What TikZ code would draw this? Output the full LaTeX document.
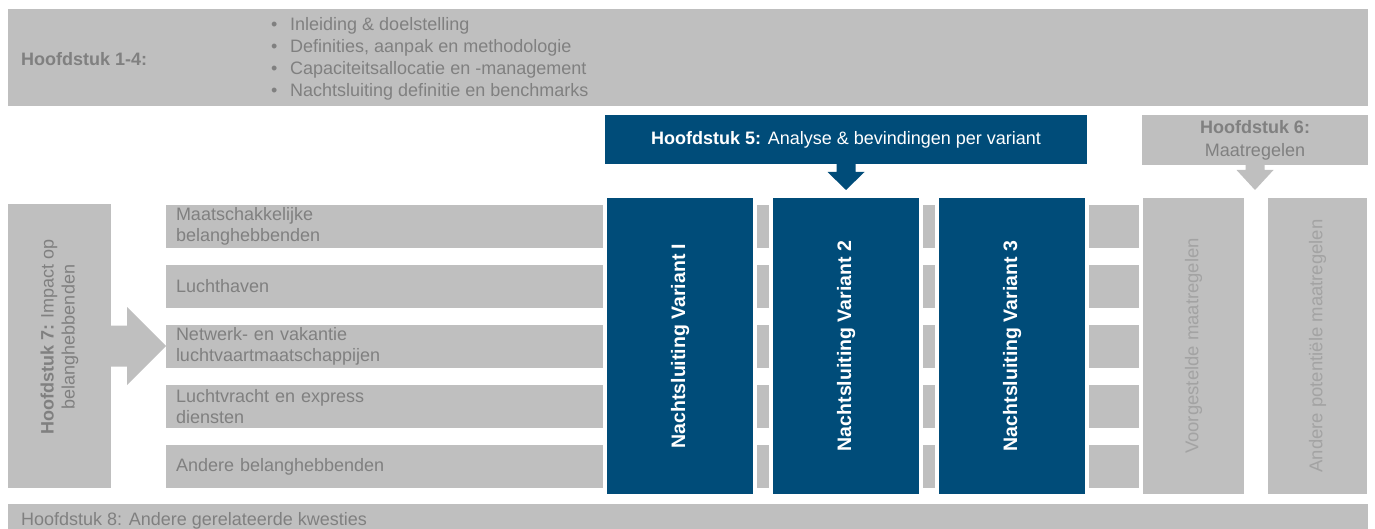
\documentclass[tikz,border=0pt]{standalone}
\usepackage{fontspec}
\setmainfont{Liberation Sans}
\usetikzlibrary{positioning,calc}
\definecolor{chapblue}{RGB}{0,76,121}
\definecolor{chapgray}{RGB}{191,191,191}
\definecolor{textgray}{RGB}{128,128,128}
\definecolor{palegray}{RGB}{163,163,163}
\newcommand{\bigfont}{\fontsize{18}{21}\selectfont}

\begin{document}
\begin{tikzpicture}[x=1pt, y=-1pt,
	graybox/.style={fill=chapgray, inner sep=0pt, outer sep=0pt, anchor=north west, text=textgray, font=\bigfont},
	bluebox/.style={fill=chapblue, inner sep=0pt, outer sep=0pt, anchor=north west, text=white, font=\bigfont},
	rowbox/.style={graybox, minimum height=43pt, text width=953pt, inner xsep=10pt, align=left},
	varbox/.style={bluebox, draw=white, line width=4pt, minimum width=150pt, minimum height=300pt},
	sidebox/.style={graybox, minimum width=#1, minimum height=296pt},
	uptext/.style={rotate=90, inner sep=0pt, font=\bigfont, align=center}]
	\useasboundingbox (0,0) rectangle (1375,529);

	% hoofdstuk 1-4
	\node [graybox, minimum width=1360pt, minimum height=97pt] (ch14) at (8,9) {};
	\node [anchor=west, inner sep=0pt, text=textgray, font=\bigfont\bfseries] (ch14t) at (21,59) {Hoofdstuk 1-4:};
	\node [anchor=west, inner sep=0pt, text=textgray, align=left, font=\fontsize{18}{22}\selectfont] (ch14l) at (271,59)
		{\makebox[19pt][l]{\textbullet}Inleiding \& doelstelling\\
		 \makebox[19pt][l]{\textbullet}Definities, aanpak en methodologie\\
		 \makebox[19pt][l]{\textbullet}Capaciteitsallocatie en -management\\
		 \makebox[19pt][l]{\textbullet}Nachtsluiting definitie en benchmarks};

	% hoofdstuk 5
	\node [bluebox, minimum width=482pt, minimum height=49pt] (ch5) at (605,115) {\textbf{Hoofdstuk 5:} Analyse \& bevindingen per variant};
	\fill [chapblue] ($(ch5.south)+(-9.5,0)$) -- ++(0,8) -- ++(-9,0) -- ($(ch5.south)+(0,26)$)
		-- ($(ch5.south)+(18.5,8)$) -- ++(-9,0) -- ++(0,-8) -- cycle;

	% hoofdstuk 6
	\node [graybox, minimum width=226pt, minimum height=50pt, align=center, font=\fontsize{18}{23}\selectfont] (ch6) at (1142,115) {\textbf{Hoofdstuk 6:}\\Maatregelen};
	\fill [chapgray] ($(ch6.south)+(-9.5,0)$) -- ++(0,5) -- ++(-9,0) -- ($(ch6.south)+(0,25)$)
		-- ($(ch6.south)+(18.5,5)$) -- ++(-9,0) -- ++(0,-5) -- cycle;

	% belanghebbenden
	\foreach \i/\txt in {1/{Maatschakkelijke\\belanghebbenden}, 2/Luchthaven, 3/{Netwerk- en vakantie\\luchtvaartmaatschappijen}, 4/{Luchtvracht en express\\diensten}, 5/Andere belanghebbenden}
		\node [rowbox] (row\i) at (166,{205+60*(\i-1)}) {\txt};

	% hoofdstuk 7
	\node [graybox, minimum width=103pt, minimum height=284pt] (ch7) at (8,204) {};
	\node [uptext, text=textgray] (ch7t) at ($(ch7.center)+(0,-9)$) {\textbf{Hoofdstuk 7:} Impact op\\belanghebbenden};
	\fill [chapgray] ($(ch7.east)+(0,-20.5)$) -- ++(16,0) -- ++(0,-18.5) -- ($(ch7.east)+(55,0)$)
		-- ($(ch7.east)+(16,39)$) -- ++(0,-18.5) -- ++(-16,0) -- cycle;

	% varianten
	\node [varbox] (var1) at (605,196) {};
	\node [varbox] (var2) at (771,196) {};
	\node [varbox] (var3) at (937,196) {};
	\node [uptext, text=white, font=\fontsize{19.5}{21}\selectfont\bfseries] (var1t) at (var1) {Nachtsluiting Variant I};
	\node [uptext, text=white, font=\fontsize{19.5}{21}\selectfont\bfseries] (var2t) at (var2) {Nachtsluiting Variant 2};
	\node [uptext, text=white, font=\fontsize{19.5}{21}\selectfont\bfseries] (var3t) at (var3) {Nachtsluiting Variant 3};

	% maatregelen
	\node [sidebox=101pt] (side1) at (1143,198) {};
	\node [sidebox=99pt] (side2) at (1268,198) {};
	\node [uptext, text=palegray, font=\fontsize{18.5}{21}\selectfont] (side1t) at (side1) {Voorgestelde maatregelen};
	\node [uptext, text=palegray, font=\fontsize{18.5}{21}\selectfont] (side2t) at (side2) {Andere potentiële maatregelen};

	% hoofdstuk 8
	\node [graybox, minimum width=1360pt, minimum height=34pt] (ch8) at (8,504) {};
	\node [anchor=west, inner sep=0pt, text=textgray, font=\bigfont] (ch8t) at (21,521) {Hoofdstuk 8: Andere gerelateerde kwesties};
\end{tikzpicture}
\end{document}
